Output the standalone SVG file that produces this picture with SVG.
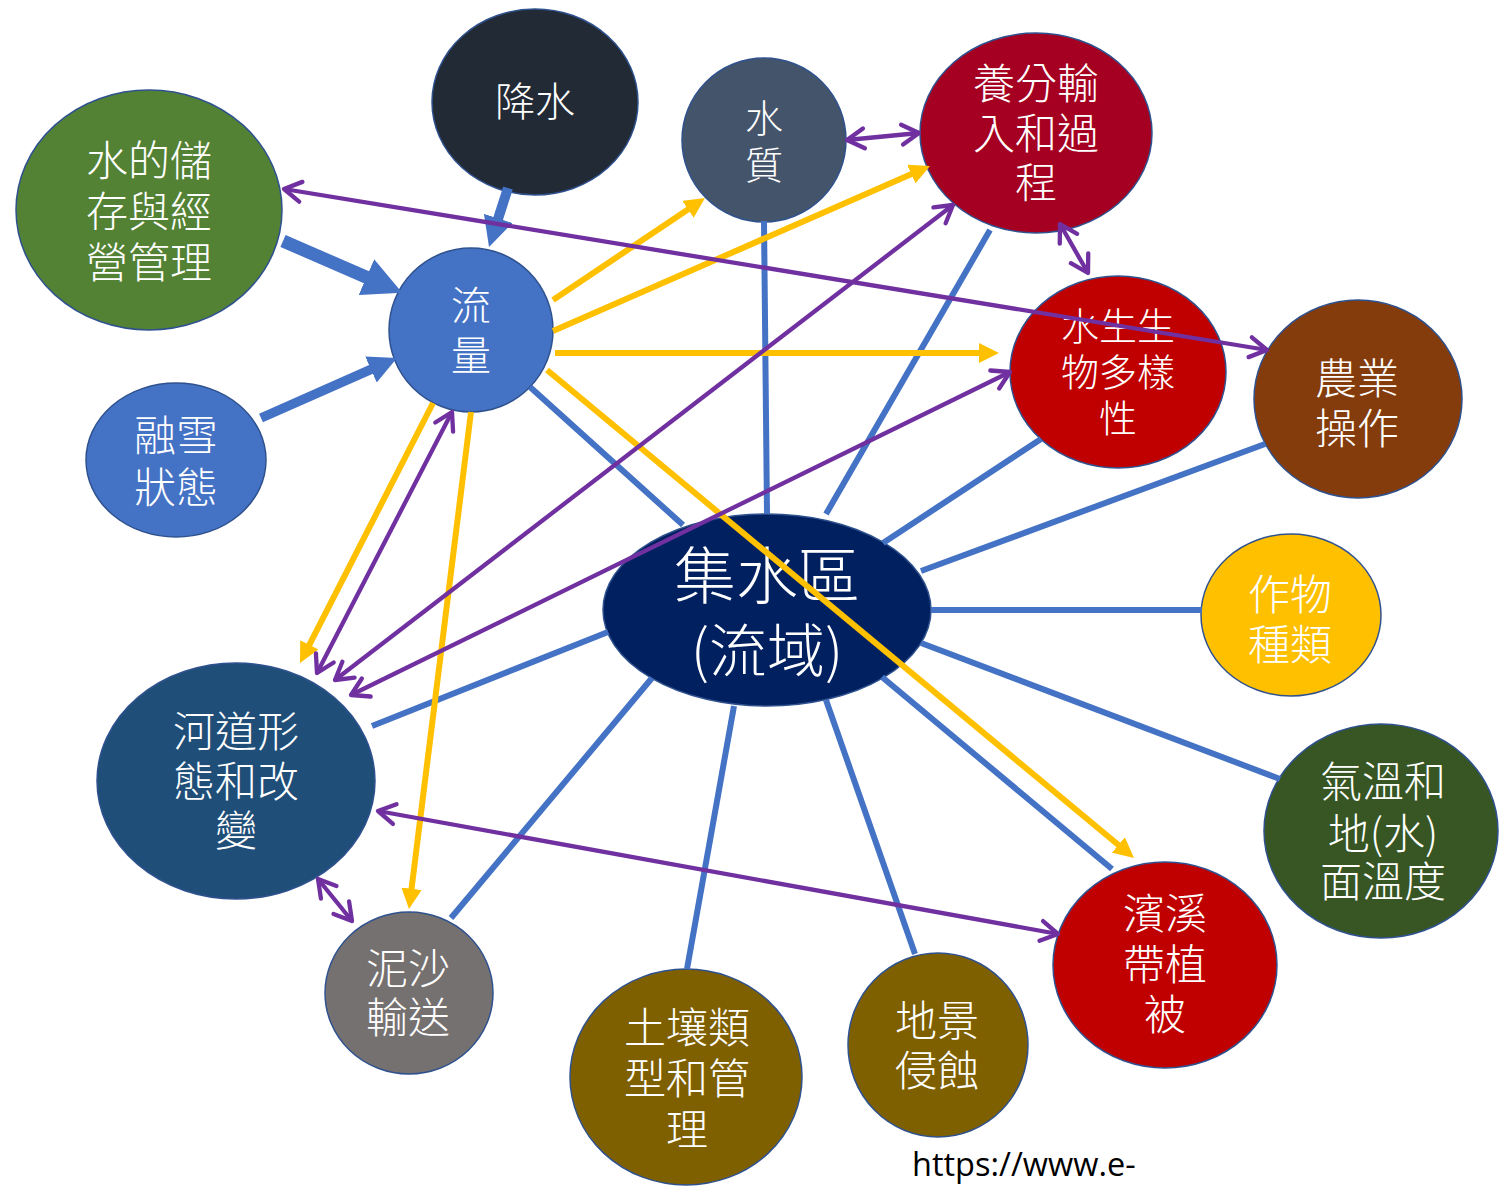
<svg xmlns="http://www.w3.org/2000/svg" width="1499" height="1187" viewBox="0 0 1499 1187">
<style>
.n{stroke:#2f528f;stroke-width:1.5}
.t{font-family:"Noto Sans CJK TC","Noto Sans CJK SC",sans-serif;font-weight:300;fill:#ffffff;text-anchor:middle;font-size:42px}
.bl{stroke:#4472c4;stroke-width:6;fill:none}
.ba{stroke:#4472c4;fill:none;marker-end:url(#blk)}
.ye{stroke:#ffc000;stroke-width:6;fill:none;marker-end:url(#ya)}
.pu{stroke:#7030a0;stroke-width:4.3;fill:none;marker-start:url(#pa);marker-end:url(#pa)}
</style>
<defs>
<marker id="blk" viewBox="0 0 3 3" markerWidth="3" markerHeight="3" refX="0.2" refY="1.5" orient="auto" markerUnits="strokeWidth">
<path d="M0,0 L3,1.5 L0,3 z" fill="#4472c4"/>
</marker>
<marker id="ya" viewBox="0 0 3.4 3.4" markerWidth="3.4" markerHeight="3.4" refX="1.4" refY="1.7" orient="auto" markerUnits="strokeWidth">
<path d="M0,0 L3.4,1.7 L0,3.4 z" fill="#ffc000"/>
</marker>
<marker id="pa" viewBox="-22 -14 26 28" markerWidth="26" markerHeight="28" refX="0" refY="0" orient="auto-start-reverse" markerUnits="userSpaceOnUse" overflow="visible">
<path d="M-17,-10 L0,0 L-17,10" fill="none" stroke="#7030a0" stroke-width="4.3" stroke-linecap="round" stroke-linejoin="round"/>
</marker>
</defs>
<rect width="1499" height="1187" fill="#ffffff"/>

<g id="node-precip">
<ellipse class="n" cx="535" cy="102" rx="103" ry="93" fill="#222a35"/>
<text class="t" x="535" y="116" style="font-size:40px">降水</text>
</g>
<g id="node-storage">
<ellipse class="n" cx="149" cy="210" rx="133" ry="120" fill="#548235"/>
<text class="t"><tspan x="149" y="176">水的儲</tspan><tspan x="149" y="227">存與經</tspan><tspan x="149" y="278">營管理</tspan></text>
</g>
<g id="node-flow">
<ellipse class="n" cx="471" cy="330" rx="82" ry="82" fill="#4472c4"/>
<text class="t" style="font-size:40px"><tspan x="471" y="320">流</tspan><tspan x="471" y="370">量</tspan></text>
</g>
<g id="node-snowmelt">
<ellipse class="n" cx="176" cy="460" rx="90" ry="77" fill="#4472c4"/>
<text class="t"><tspan x="176" y="451">融雪</tspan><tspan x="176" y="503">狀態</tspan></text>
</g>
<g id="node-quality">
<ellipse class="n" cx="764" cy="140" rx="82" ry="82" fill="#44546a"/>
<text class="t" style="font-size:38px"><tspan x="764" y="132">水</tspan><tspan x="764" y="179">質</tspan></text>
</g>
<g id="node-nutrient">
<ellipse class="n" cx="1036" cy="133" rx="116" ry="100" fill="#a50021"/>
<text class="t"><tspan x="1036" y="99">養分輸</tspan><tspan x="1036" y="149">入和過</tspan><tspan x="1036" y="198">程</tspan></text>
</g>
<g id="node-biodiversity">
<ellipse class="n" cx="1118" cy="372" rx="108" ry="96" fill="#c00000"/>
<text class="t" style="font-size:38px"><tspan x="1118" y="340">水生生</tspan><tspan x="1118" y="386">物多樣</tspan><tspan x="1118" y="432">性</tspan></text>
</g>
<g id="node-agri">
<ellipse class="n" cx="1358" cy="399" rx="104" ry="99" fill="#843c0c"/>
<text class="t"><tspan x="1357" y="394">農業</tspan><tspan x="1357" y="444">操作</tspan></text>
</g>
<g id="node-crop">
<ellipse class="n" cx="1291" cy="615" rx="90" ry="81" fill="#ffc000"/>
<text class="t"><tspan x="1290" y="610">作物</tspan><tspan x="1290" y="660">種類</tspan></text>
</g>
<g id="node-temp">
<ellipse class="n" cx="1381" cy="831" rx="117" ry="107" fill="#375623"/>
<text class="t"><tspan x="1383" y="797">氣溫和</tspan><tspan x="1383" y="849">地(水)</tspan><tspan x="1383" y="897">面溫度</tspan></text>
</g>
<g id="node-riparian">
<ellipse class="n" cx="1165" cy="965" rx="112" ry="103" fill="#c00000"/>
<text class="t"><tspan x="1165" y="929">濱溪</tspan><tspan x="1165" y="980">帶植</tspan><tspan x="1165" y="1030">被</tspan></text>
</g>
<g id="node-erosion">
<ellipse class="n" cx="938" cy="1045" rx="90" ry="92" fill="#7f6000"/>
<text class="t"><tspan x="937" y="1036">地景</tspan><tspan x="937" y="1086">侵蝕</tspan></text>
</g>
<g id="node-soil">
<ellipse class="n" cx="686" cy="1077" rx="116" ry="108" fill="#7f6000"/>
<text class="t"><tspan x="687" y="1043">土壤類</tspan><tspan x="687" y="1094">型和管</tspan><tspan x="687" y="1145">理</tspan></text>
</g>
<g id="node-sediment">
<ellipse class="n" cx="409" cy="993" rx="84" ry="81" fill="#767171"/>
<text class="t"><tspan x="408" y="984">泥沙</tspan><tspan x="408" y="1033">輸送</tspan></text>
</g>
<g id="node-channel">
<ellipse class="n" cx="236" cy="781" rx="139" ry="118" fill="#1f4e79"/>
<text class="t"><tspan x="236" y="747">河道形</tspan><tspan x="236" y="797">態和改</tspan><tspan x="236" y="846">變</tspan></text>
</g>
<g id="node-watershed">
<ellipse class="n" cx="767" cy="610" rx="164" ry="96" fill="#002060"/>
<text class="t"><tspan x="767" y="599" style="font-size:62px">集水區</tspan><tspan x="767" y="672" style="font-size:58px">(流域)</tspan></text>
</g>

<g id="connectors">
<line class="bl" x1="683" y1="525" x2="530" y2="387"/>
<line class="bl" x1="767" y1="514" x2="764" y2="221"/>
<line class="bl" x1="826" y1="514" x2="990" y2="230"/>
<line class="bl" x1="883" y1="543" x2="1041" y2="439"/>
<line class="bl" x1="921" y1="571" x2="1265" y2="444"/>
<line class="bl" x1="931" y1="610" x2="1202" y2="610"/>
<line class="bl" x1="921" y1="643" x2="1280" y2="779"/>
<line class="bl" x1="882" y1="677" x2="1112" y2="869"/>
<line class="bl" x1="826" y1="700" x2="915" y2="954"/>
<line class="bl" x1="734" y1="706" x2="687" y2="969"/>
<line class="bl" x1="652" y1="678" x2="451" y2="918"/>
<line class="bl" x1="608" y1="632" x2="372" y2="726"/>

<line class="ba" stroke-width="10" x1="508" y1="188" x2="497.6" y2="220.3"/>
<line class="ba" stroke-width="13" x1="283" y1="241" x2="368.8" y2="278.2"/>
<line class="ba" stroke-width="9.5" x1="261" y1="418" x2="372.7" y2="368.7"/>

<line class="ye" x1="553" y1="300" x2="695" y2="204.7"/>
<line class="ye" x1="553" y1="331" x2="919" y2="170.8"/>
<line class="ye" x1="555" y1="353" x2="987" y2="353"/>
<line class="ye" x1="547" y1="370" x2="1124.8" y2="850.3"/>
<line class="ye" x1="433" y1="403" x2="305.5" y2="652.3"/>
<line class="ye" x1="471" y1="412" x2="410.5" y2="897.1"/>

<line class="pu" x1="284" y1="189" x2="1267" y2="350"/>
<line class="pu" x1="847" y1="140" x2="919" y2="133"/>
<line class="pu" x1="1060" y1="224" x2="1088" y2="273"/>
<line class="pu" x1="335" y1="680" x2="953" y2="205"/>
<line class="pu" x1="351" y1="695" x2="1010" y2="372"/>
<line class="pu" x1="317" y1="673" x2="452" y2="412"/>
<line class="pu" x1="378" y1="811" x2="1058" y2="934"/>
<line class="pu" x1="318" y1="879" x2="352" y2="921"/>
</g>

<text x="912" y="1176" font-family="'Open Sans','Noto Sans',sans-serif" font-size="32.5" fill="#000000">https://www.e-</text>
</svg>
